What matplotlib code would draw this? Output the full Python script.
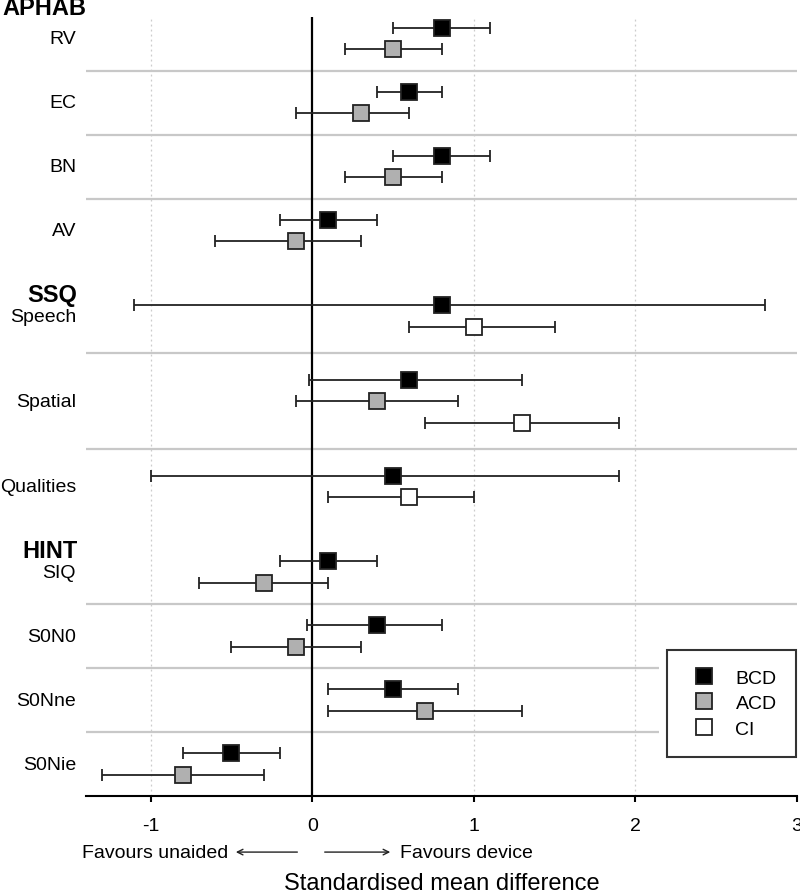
import numpy as np
import matplotlib
matplotlib.use('Agg')
import matplotlib.pyplot as plt
from matplotlib.lines import Line2D

plt.rcParams['font.family'] = ['Liberation Sans', 'DejaVu Sans']

nan = np.nan

outcomes = ['RV', 'EC', 'BN', 'AV', 'Speech', 'Spatial', 'Qualities',
            'SIQ', 'S0N0', 'S0Nne', 'S0Nie']
sections = ['APHAB'] * 4 + ['SSQ'] * 3 + ['HINT'] * 4

bcd_est = [0.8, 0.6, 0.8, 0.1, 0.8, 0.6, 0.5, 0.1, 0.4, 0.5, -0.5]
bcd_lo = [0.5, 0.4, 0.5, -0.2, -1.1, -0.02, -1.0, -0.2, -0.03, 0.1, -0.8]
bcd_hi = [1.1, 0.8, 1.1, 0.4, 2.8, 1.3, 1.9, 0.4, 0.8, 0.9, -0.2]

acd_est = [0.5, 0.3, 0.5, -0.1, nan, 0.4, nan, -0.3, -0.1, 0.7, -0.8]
acd_lo = [0.2, -0.1, 0.2, -0.6, nan, -0.1, nan, -0.7, -0.5, 0.1, -1.3]
acd_hi = [0.8, 0.6, 0.8, 0.3, nan, 0.9, nan, 0.1, 0.3, 1.3, -0.3]

ci_est = [nan, nan, nan, nan, 1.0, 1.3, 0.6, nan, nan, nan, nan]
ci_lo = [nan, nan, nan, nan, 0.6, 0.7, 0.1, nan, nan, nan, nan]
ci_hi = [nan, nan, nan, nan, 1.5, 1.9, 1.0, nan, nan, nan, nan]

series = [
    ('BCD', bcd_est, bcd_lo, bcd_hi, 'black'),
    ('ACD', acd_est, acd_lo, acd_hi, '#b0b0b0'),
    ('CI', ci_est, ci_lo, ci_hi, 'white'),
]

# row layout: rows within a group are 1 apart
group_gap = {'APHAB': 2.0, 'SSQ': 2.5, 'HINT': 2.0}
section_gap = 3.0

row_y = {}      # (outcome index, series index) -> y
label_y = []
separators = []
headers = []
cursor = None
for i, name in enumerate(outcomes):
    present = [k for k, s in enumerate(series) if not np.isnan(s[1][i])]
    if cursor is None:
        start = 0.0
    elif sections[i] != sections[i - 1]:
        start = cursor + section_gap
    else:
        start = cursor + group_gap[sections[i]]
        separators.append((cursor + start) / 2)
    for j, k in enumerate(present):
        row_y[(i, k)] = start + j
    cursor = start + len(present) - 1
    label_y.append((start + cursor) / 2)
    if i == 0 or sections[i] != sections[i - 1]:
        headers.append((sections[i], label_y[-1] - 1))

fig = plt.figure(figsize=(8, 8.95), dpi=100)
ax = fig.add_axes([0.1075, 0.1095, 0.8888, 0.8704])
ax.set_xlim(-1.4, 3.0)
ax.set_ylim(36.0, -0.52)

for gx in [-1, 1, 2]:
    ax.axvline(gx, color='#cccccc', lw=0.9, ls=(0, (1.5, 2.5)), zorder=0)
ax.axvline(0, color='black', lw=1.6, zorder=1)

for n, sy in enumerate(separators):
    xmax = 2.145 if n >= len(separators) - 2 else 3.0
    ax.hlines(sy, -1.4, xmax, color='#c8c8c8', lw=1.6, zorder=0)

for k, (lab, est, lo, hi, col) in enumerate(series):
    for i in range(len(outcomes)):
        if np.isnan(est[i]):
            continue
        y = row_y[(i, k)]
        ax.errorbar(est[i], y, xerr=[[est[i] - lo[i]], [hi[i] - est[i]]],
                    fmt='none', ecolor='#222222', elinewidth=1.3,
                    capsize=4.3, capthick=1.3, zorder=2)
        ax.plot(est[i], y, marker='s', ms=11, mfc=col, mec='#222222',
                mew=1.3, ls='none', zorder=3)

trans = ax.get_yaxis_transform()
for name, y in zip(outcomes, label_y):
    ax.text(-0.014, y, name, transform=trans, ha='right', va='center',
            fontsize=14)
for name, y in headers:
    if y < 0:
        ax.text(-0.117, -0.95, name, transform=trans, ha='left',
                va='center', fontsize=17, fontweight='bold')
    else:
        ax.text(-0.012, y, name, transform=trans, ha='right', va='center',
                fontsize=17, fontweight='bold')

for side in ['top', 'right', 'left']:
    ax.spines[side].set_visible(False)
ax.spines['bottom'].set_linewidth(1.5)
ax.set_yticks([])
ax.set_xticks([-1, 0, 1, 2, 3])
ax.set_xticklabels(['-1', '0', '1', '2', '3'])
ax.tick_params(axis='x', length=4.3, width=1.5, pad=11, labelsize=14)

ax.annotate('', xy=(-0.49, -0.072), xytext=(-0.075, -0.072),
            xycoords=('data', 'axes fraction'),
            arrowprops=dict(arrowstyle='->', lw=1.0, color='#222222'))
ax.annotate('', xy=(0.5, -0.072), xytext=(0.06, -0.072),
            xycoords=('data', 'axes fraction'),
            arrowprops=dict(arrowstyle='->', lw=1.0, color='#222222'))
ax.text(-0.52, -0.072, 'Favours unaided', transform=ax.get_xaxis_transform(),
        ha='right', va='center', fontsize=14)
ax.text(0.545, -0.072, 'Favours device', transform=ax.get_xaxis_transform(),
        ha='left', va='center', fontsize=14)
ax.text(0.5, -0.112, 'Standardised mean difference', transform=ax.transAxes,
        ha='center', va='center', fontsize=17)

handles = [Line2D([], [], marker='s', ms=11, mfc=s[4], mec='#222222', mew=1.3,
                  ls='none', label=s[0]) for s in series]
leg = ax.legend(handles=handles, loc='lower right',
                bbox_to_anchor=(0.9986, 0.050), fontsize=14, frameon=True,
                fancybox=False, edgecolor='black', borderpad=1.0,
                labelspacing=0.4, handletextpad=0.7, handlelength=1.8,
                borderaxespad=0)
leg.get_frame().set_linewidth(1.5)

fig.savefig('out.png', dpi=100)
